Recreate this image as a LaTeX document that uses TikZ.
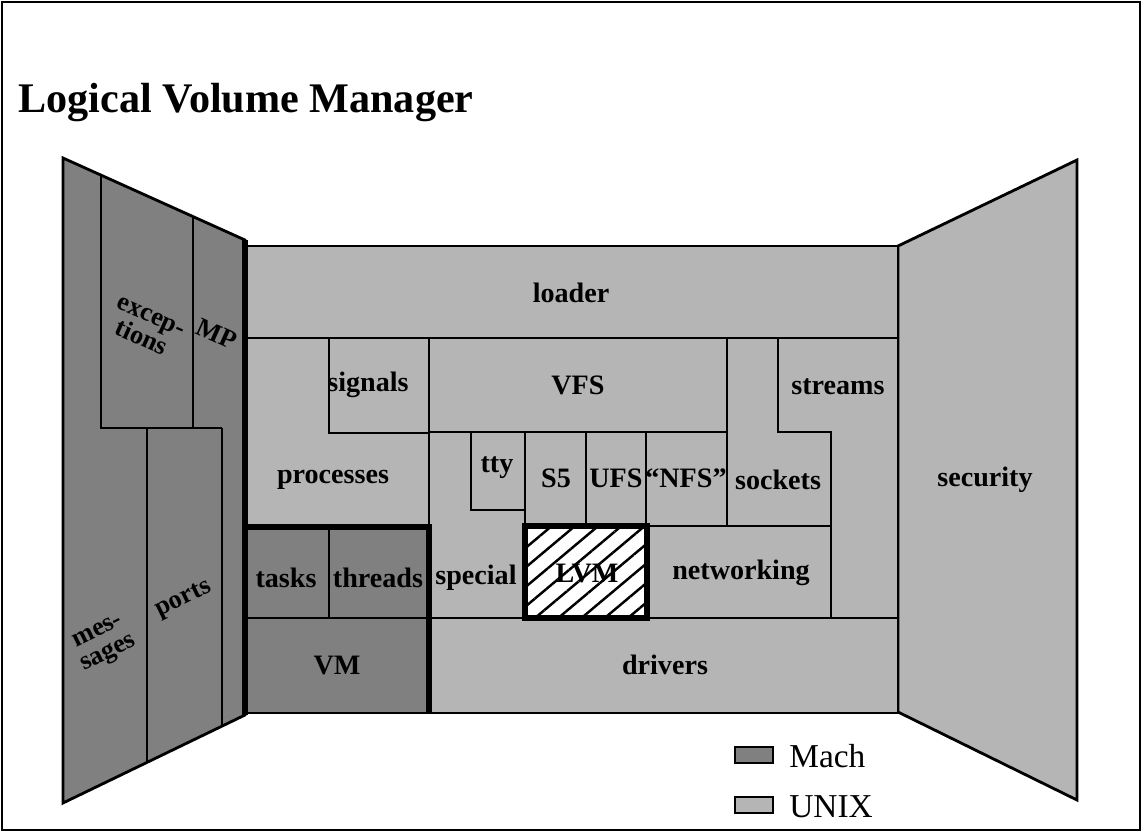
\documentclass[tikz,border=0pt]{standalone}
\usepackage{fontspec}
\setmainfont{Liberation Serif}
\usetikzlibrary{patterns.meta}
\definecolor{machgray}{gray}{0.5}
\definecolor{unixgray}{gray}{0.71}

\begin{document}
\begin{tikzpicture}[x=0.02cm, y=-0.02cm, line join=miter,
  wall/.style={line width=1.6pt},
  heavy/.style={line width=3.6pt},
  every node/.style={font=\fontsize{16}{15}\selectfont\bfseries, inner sep=0pt}]
  \useasboundingbox (0,0) rectangle (1143,833);
  \draw[line width=1pt] (2,2) rectangle (1140,830);
  \node[anchor=base west, font=\fontsize{24}{24}\selectfont\bfseries] (title) at (18,112) {Logical Volume Manager};

  % left wall, Mach
  \filldraw[wall, fill=machgray] (63,158) -- (245,240) -- (245,715) -- (63,803) -- cycle;
  \draw[wall] (101,175) -- (101,428) -- (222,428);
  \draw[wall] (193,217) -- (193,428);
  \draw[wall] (147,428) -- (147,762);
  \draw[wall] (222,428) -- (222,726);

  % right wall, UNIX
  \filldraw[wall, fill=unixgray] (898,246) -- (1077,160) -- (1077,800) -- (898,712) -- cycle;

  % back wall
  \fill[unixgray] (245,246) rectangle (898,713);
  \fill[machgray] (245,527) rectangle (429,713);
  \fill[white] (525,526) rectangle (647,618);
  \fill[pattern={Lines[angle=40, distance=8.5pt, line width=1.4pt]}] (525,526) rectangle (647,618);
  \draw[wall] (245,246) rectangle (898,713);
  \draw[wall] (245,338) -- (898,338);
  \draw[wall] (329,338) -- (329,433) -- (429,433);
  \draw[wall] (429,338) -- (429,618);
  \draw[wall] (429,432) -- (727,432);
  \draw[wall] (471,432) -- (471,510) -- (525,510);
  \draw[wall] (525,432) -- (525,526);
  \draw[wall] (586,432) -- (586,526);
  \draw[wall] (646,432) -- (646,526);
  \draw[wall] (727,338) -- (727,526);
  \draw[wall] (778,338) -- (778,432) -- (831,432) -- (831,618);
  \draw[wall] (525,526) -- (831,526);
  \draw[wall] (429,618) -- (898,618);
  \draw[wall] (329,527) -- (329,618);
  \draw[wall] (245,618) -- (429,618);
  \draw[heavy] (245,240) -- (245,715);
  \draw[heavy] (245,527) -- (429,527) -- (429,713);
  \draw[heavy] (525,526) rectangle (647,618);

  % labels
  \node[align=center, rotate=-24, font=\fontsize{15}{14}\selectfont\bfseries] (exceptions) at (146,328) {excep-\\tions};
  \node[rotate=-24, font=\fontsize{15}{14}\selectfont\bfseries] (mp) at (217,334) {MP};
  \node[align=center, rotate=26, font=\fontsize{15}{14}\selectfont\bfseries] (messages) at (104,644) {mes-\\sages};
  \node[rotate=26, font=\fontsize{15}{14}\selectfont\bfseries] (ports) at (184,600) {ports};
  \node (loader) at (571,293) {loader};
  \node (signals) at (368,385) {signals};
  \node (vfs) at (578,385) {VFS};
  \node (streams) at (838,387) {streams};
  \node (processes) at (333,480) {processes};
  \node (tty) at (497,468) {tty};
  \node (s5) at (556,478) {S5};
  \node (ufs) at (616,478) {UFS};
  \node (nfs) at (686,478) {“NFS”};
  \node (sockets) at (778,480) {sockets};
  \node (security) at (985,480) {security};
  \node (tasks) at (286,578) {tasks};
  \node (threads) at (378,578) {threads};
  \node (special) at (476,578) {special};
  \node (lvm) at (587,573) {LVM};
  \node (networking) at (741,573) {networking};
  \node (vm) at (337,665) {VM};
  \node (drivers) at (665,665) {drivers};

  % legend
  \filldraw[wall, fill=machgray] (735,747) rectangle (773,763);
  \node[anchor=base west, font=\fontsize{19}{19}\selectfont] (mach) at (789,767) {Mach};
  \filldraw[wall, fill=unixgray] (735,797) rectangle (773,813);
  \node[anchor=base west, font=\fontsize{19}{19}\selectfont] (unix) at (789,817) {UNIX};
\end{tikzpicture}
\end{document}
